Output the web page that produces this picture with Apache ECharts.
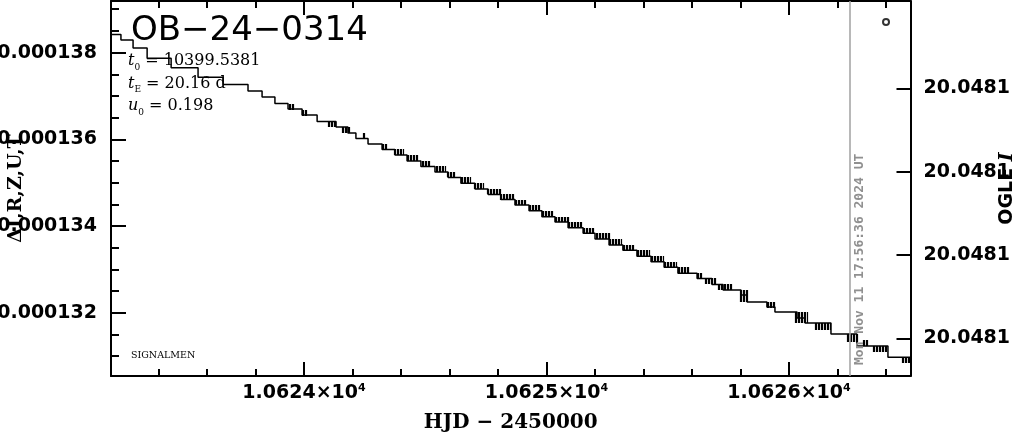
<!DOCTYPE html>
<html><head><meta charset="utf-8">
<script src="https://cdn.jsdelivr.net/npm/echarts@6/dist/echarts.min.js"></script>
<style>html,body{margin:0;padding:0;background:#fff}#c{width:1014px;height:434px}</style>
</head><body><div id="c"></div>
<script>
// ---- data ----
const eventName = 'OB\u221224\u22120314';
const t0Value = '10399.5381';
const tEValue = '20.16 d';
const u0Value = '0.198';
const footerText = 'SIGNALMEN';

// model curve (staircase): HJD-2450000 where each level starts, and its value
const stepHJD = [10623.204, 10623.245, 10623.295, 10623.353, 10623.452, 10623.563, 10623.666, 10623.769, 10623.827, 10623.880,
  10623.934, 10623.992, 10624.054, 10624.132, 10624.181, 10624.214, 10624.264, 10624.322, 10624.375, 10624.425,
  10624.482, 10624.540, 10624.594, 10624.647, 10624.705, 10624.759, 10624.812, 10624.870, 10624.928, 10624.981,
  10625.035, 10625.089, 10625.151, 10625.200, 10625.258, 10625.315, 10625.373, 10625.431, 10625.485, 10625.542,
  10625.621, 10625.682, 10625.728, 10625.802, 10625.827, 10625.909, 10625.942, 10626.033, 10626.066, 10626.173,
  10626.280, 10626.408, 10626.501];
const stepDelta = [0.000138417, 0.000138290, 0.000138106, 0.000137868, 0.000137652, 0.000137430, 0.000137264, 0.000137114, 0.000136976, 0.000136826,
  0.000136699, 0.000136561, 0.000136411, 0.000136284, 0.000136146, 0.000136019, 0.000135892, 0.000135766, 0.000135639, 0.000135500,
  0.000135374, 0.000135247, 0.000135120, 0.000134986, 0.000134855, 0.000134728, 0.000134613, 0.000134486, 0.000134354, 0.000134216,
  0.000134094, 0.000133962, 0.000133833, 0.000133702, 0.000133564, 0.000133441, 0.000133303, 0.000133178, 0.000133049, 0.000132911,
  0.000132791, 0.000132653, 0.000132526, 0.000132411, 0.000132249, 0.000132134, 0.000132019, 0.000131880, 0.000131765, 0.000131511,
  0.000131235, 0.000130974, 0.000130974];

// clusters of observation error bars: start/end HJD, upper/lower value
const barStart = [10623.938, 10623.992, 10624.099, 10624.157, 10624.243, 10624.322, 10624.371, 10624.425, 10624.487, 10624.544,
  10624.590, 10624.647, 10624.701, 10624.755, 10624.808, 10624.870, 10624.928, 10624.981, 10625.035, 10625.089,
  10625.151, 10625.204, 10625.258, 10625.315, 10625.373, 10625.431, 10625.485, 10625.542, 10625.621, 10625.654,
  10625.707, 10625.798, 10625.909, 10626.025, 10626.107, 10626.239, 10626.305, 10626.346, 10626.466];
const barEnd = [10623.955, 10624.012, 10624.132, 10624.186, 10624.247, 10624.342, 10624.408, 10624.466, 10624.520, 10624.581,
  10624.623, 10624.685, 10624.738, 10624.808, 10624.862, 10624.911, 10624.973, 10625.027, 10625.089, 10625.146,
  10625.192, 10625.258, 10625.307, 10625.357, 10625.423, 10625.480, 10625.534, 10625.584, 10625.641, 10625.695,
  10625.765, 10625.827, 10625.942, 10626.074, 10626.169, 10626.280, 10626.322, 10626.404, 10626.499];
const barHigh = [0.000136815, 0.000136676, 0.000136400, 0.000136284, 0.000136146, 0.000135892, 0.000135777, 0.000135639, 0.000135500, 0.000135385,
  0.000135247, 0.000135131, 0.000134993, 0.000134855, 0.000134739, 0.000134601, 0.000134486, 0.000134347, 0.000134209, 0.000134094,
  0.000133955, 0.000133840, 0.000133702, 0.000133564, 0.000133448, 0.000133310, 0.000133172, 0.000133056, 0.000132918, 0.000132803,
  0.000132664, 0.000132526, 0.000132249, 0.000132019, 0.000131765, 0.000131511, 0.000131373, 0.000131235, 0.000130981];
const barLow = [0.000136676, 0.000136538, 0.000136284, 0.000136146, 0.000136031, 0.000135777, 0.000135639, 0.000135500, 0.000135385, 0.000135247,
  0.000135131, 0.000134993, 0.000134855, 0.000134739, 0.000134601, 0.000134486, 0.000134347, 0.000134209, 0.000134094, 0.000133955,
  0.000133840, 0.000133702, 0.000133564, 0.000133448, 0.000133310, 0.000133172, 0.000133056, 0.000132918, 0.000132803, 0.000132664,
  0.000132526, 0.000132249, 0.000132111, 0.000131765, 0.000131604, 0.000131327, 0.000131235, 0.000131096, 0.000130843];

// single OGLE point
const ogleHJD = [10626.400];
const ogleValue = [0.000138705];

// current-time marker
const markerHJD = 10626.2477;
const markerText = 'Mon Nov 11 17:56:36 2024 UT';

// axes
const xRange = [10623.204, 10626.501];
const xMajorTicks = [10624, 10625, 10626];
const xTickMantissa = ['1.0624', '1.0625', '1.0626'];
const xTickExponent = '4';
const xMinorTicks = [10623.4, 10623.6, 10623.8, 10624.2, 10624.4, 10624.6, 10624.8, 10625.2, 10625.4, 10625.6, 10625.8, 10626.2, 10626.4];
const xTitle = 'HJD \u2212 2450000';

const leftRange = [0.000130543, 0.0001391896];
const leftMajorTicks = [0.000132, 0.000134, 0.000136, 0.000138];
const leftTickLabels = ['0.000132', '0.000134', '0.000136', '0.000138'];
const leftMinorTicks = [0.000131, 0.0001315, 0.0001325, 0.000133, 0.0001335, 0.0001345, 0.000135, 0.0001355, 0.0001365, 0.000137, 0.0001375, 0.0001385, 0.000139];
const leftTitle = '\u0394I,R,Z,U,T';

const rightRange = [20.0480999, 20.0481089];
const rightTicks = [20.048102, 20.048104, 20.048106, 20.048108];
const rightTickLabels = ['20.0481', '20.0481', '20.0481', '20.0481'];

// ---- chart ----
const chart = echarts.init(document.getElementById('c'), null, {renderer: 'canvas'});
const SANS = 'DejaVu Sans';
const SERIF = 'DejaVu Serif';
const lab = {fontFamily: SANS, fontWeight: 'bold', fontSize: 19, color: '#000'};
const axLine = {show: true, lineStyle: {color: '#000', width: 2}};

function tickAxis(base, ticks, len) {
  return Object.assign({
    type: 'value', gridIndex: 0, splitLine: {show: false},
    axisLine: {show: false}, axisLabel: {show: false},
    axisTick: {show: true, inside: true, length: len, customValues: ticks, lineStyle: {color: '#000', width: 2}}
  }, base);
}

const xAxes = [
  Object.assign(tickAxis({position: 'bottom', min: xRange[0], max: xRange[1]}, xMajorTicks, 14), {
    axisLine: axLine,
    axisLabel: {show: true, customValues: xMajorTicks, margin: 7,
      formatter: v => '{m|' + xTickMantissa[xMajorTicks.indexOf(v)] + '\u00d710}{e|' + xTickExponent + '}',
      rich: {m: Object.assign({}, lab, {lineHeight: 20}), e: {fontFamily: SANS, fontWeight: 'bold', fontSize: 11, lineHeight: 20, verticalAlign: 'top', color: '#000'}}},
    name: xTitle, nameLocation: 'middle', nameGap: 37, nameMoveOverlap: false,
    nameTextStyle: {fontFamily: SERIF, fontWeight: 'bold', fontSize: 20, color: '#000'}
  }),
  tickAxis({position: 'bottom', min: xRange[0], max: xRange[1]}, xMinorTicks, 7),
  Object.assign(tickAxis({position: 'top', min: xRange[0], max: xRange[1]}, xMajorTicks, 14), {axisLine: axLine}),
  tickAxis({position: 'top', min: xRange[0], max: xRange[1]}, xMinorTicks, 7)
];

const yAxes = [
  Object.assign(tickAxis({position: 'left', min: leftRange[0], max: leftRange[1]}, leftMajorTicks, 15), {
    axisLine: axLine,
    axisLabel: Object.assign({show: true, customValues: leftMajorTicks, margin: 14,
      formatter: v => leftTickLabels[leftMajorTicks.indexOf(v)] || v.toFixed(6)}, lab),
    name: leftTitle, nameLocation: 'middle', nameRotate: 90, nameGap: 85, nameMoveOverlap: false,
    nameTextStyle: {fontFamily: SERIF, fontWeight: 'bold', fontSize: 19, color: '#000'}
  }),
  tickAxis({position: 'left', min: leftRange[0], max: leftRange[1]}, leftMinorTicks, 8),
  Object.assign(tickAxis({position: 'right', min: rightRange[0], max: rightRange[1], inverse: true}, rightTicks, 14), {
    axisLine: axLine,
    axisLabel: Object.assign({show: true, customValues: rightTicks, margin: 13,
      formatter: v => rightTickLabels[rightTicks.indexOf(v)] || v.toFixed(4)}, lab),
    name: '{n|OGLE }{i|I}', nameLocation: 'middle', nameRotate: 90, nameGap: 87, nameMoveOverlap: false,
    nameTextStyle: {fontFamily: SANS, fontWeight: 'bold', fontSize: 19, color: '#000',
      rich: {n: {fontFamily: SANS, fontWeight: 'bold', fontSize: 19, color: '#000'},
             i: {fontFamily: SERIF, fontWeight: 'bold', fontStyle: 'italic', fontSize: 19, color: '#000'}}}
  })
];

const subStyle = {fontFamily: SERIF, fontWeight: 'normal', fontSize: 9, lineHeight: 17, verticalAlign: 'bottom', color: '#000'};
const paramText =
  '{it|t}{sub|0}{n| = ' + t0Value + '}\n' +
  '{it|t}{sub|E}{n| = ' + tEValue + '}\n' +
  '{it|u}{sub|0}{n| = ' + u0Value + '}';

const option = {
  animation: false,
  backgroundColor: '#fff',
  grid: {left: 111, right: 103.5, top: 1, bottom: 58, containLabel: false, outerBoundsMode: 'none'},
  title: [
    {text: eventName, left: 131, top: 14, padding: 0,
     textStyle: {fontFamily: SANS, fontSize: 34, fontWeight: 'normal', color: '#000', lineHeight: 34}},
    {text: paramText, left: 128, top: 50, padding: 0,
     textStyle: {fontFamily: SERIF, fontSize: 16, fontWeight: 'normal', color: '#000', lineHeight: 22.3,
       rich: {it: {fontFamily: SERIF, fontWeight: 'normal', fontStyle: 'italic', fontSize: 16, lineHeight: 22.3, color: '#000'},
              n: {fontFamily: SERIF, fontWeight: 'normal', fontSize: 16, lineHeight: 22.3, color: '#000'},
              sub: subStyle}}},
    {text: footerText, left: 131, top: 351, padding: 0,
     textStyle: {fontFamily: SERIF, fontSize: 9.5, fontWeight: 'normal', color: '#000', lineHeight: 9.5}}
  ],
  xAxis: xAxes,
  yAxis: yAxes,
  series: [
    {
      type: 'custom', xAxisIndex: 0, yAxisIndex: 0, silent: true, z: 2,
      data: barStart.map((x, i) => [x, barEnd[i], barHigh[i], barLow[i]]),
      encode: {x: [0, 1], y: [2, 3]},
      renderItem: (params, api) => {
        const a = api.coord([api.value(0), api.value(2)]);
        const b = api.coord([api.value(1), api.value(3)]);
        const x0 = Math.round(a[0]), x1 = Math.round(b[0]);
        const children = [];
        for (let x = x0; x <= x1; x++) {
          if ((x - x0) % 3 === 2) continue;
          children.push({type: 'line', shape: {x1: x + 0.5, y1: a[1], x2: x + 0.5, y2: b[1]},
            style: {stroke: '#000', lineWidth: 1.2}});
        }
        return {type: 'group', children: children};
      }
    },
    {
      type: 'line', xAxisIndex: 0, yAxisIndex: 0, step: 'end', silent: true, z: 3,
      symbol: 'none', showSymbol: false,
      data: stepHJD.map((x, i) => [x, stepDelta[i]]),
      lineStyle: {color: '#000', width: 1.5},
      markLine: {
        silent: true, symbol: 'none', animation: false,
        data: [{xAxis: markerHJD}],
        lineStyle: {color: '#a0a0a0', width: 1.5, type: 'solid'},
        label: {show: true, formatter: markerText, position: 'insideStartBottom', distance: [11, 3],
          color: '#909090', fontFamily: 'DejaVu Sans Mono', fontWeight: 'bold', fontSize: 13}
      }
    },
    {
      type: 'scatter', xAxisIndex: 0, yAxisIndex: 0, silent: true, z: 4,
      data: ogleHJD.map((x, i) => [x, ogleValue[i]]),
      symbol: 'circle', symbolSize: 6,
      itemStyle: {color: '#fff', borderColor: '#000', borderWidth: 2}
    }
  ]
};
chart.setOption(option);
</script>
</body></html>
